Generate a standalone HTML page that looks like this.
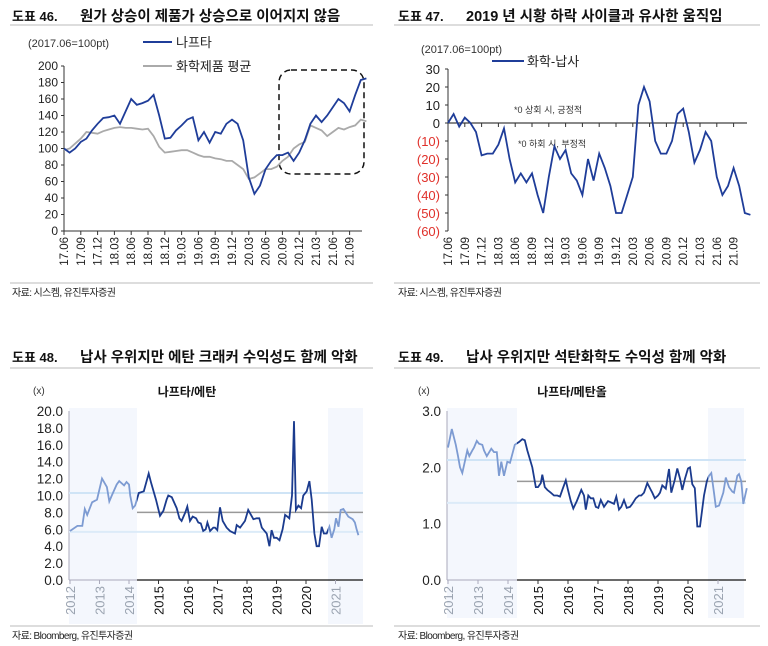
<!DOCTYPE html>
<html><head><meta charset="utf-8">
<style>
body{margin:0;background:#fff;}
svg{display:block;font-family:"Liberation Sans","Noto Sans CJK KR",sans-serif;}
.tt{font-weight:bold;font-size:14.5px;fill:#111}
.tn{font-weight:bold;font-size:13px;fill:#111}
.src{font-size:10px;fill:#222;letter-spacing:-0.6px}
</style></head><body>
<svg id="s" width="768" height="646" viewBox="0 0 768 646">
<g>
<text x="12" y="21" class="tn">도표 46.</text>
<text x="80" y="21" class="tt">원가 상승이 제품가 상승으로 이어지지 않음</text>
<line x1="10" y1="25" x2="373" y2="25" stroke="#bbb"/>
</g>
<g>
<text x="398" y="21" class="tn">도표 47.</text>
<text x="466" y="21" class="tt">2019 년 시황 하락 사이클과 유사한 움직임</text>
<line x1="394" y1="25" x2="760" y2="25" stroke="#bbb"/>
</g>
<g>
<text x="12" y="362" class="tn">도표 48.</text>
<text x="80" y="362" class="tt">납사 우위지만 에탄 크래커 수익성도 함께 악화</text>
<line x1="10" y1="368" x2="373" y2="368" stroke="#bbb"/>
</g>
<g>
<text x="398" y="362" class="tn">도표 49.</text>
<text x="466" y="362" class="tt">납사 우위지만 석탄화학도 수익성 함께 악화</text>
<line x1="394" y1="368" x2="760" y2="368" stroke="#bbb"/>
</g>
<line x1="10" y1="283" x2="373" y2="283" stroke="#bbb"/>
<text x="12" y="296" class="src">자료: 시스켐, 유진투자증권</text>
<line x1="394" y1="283" x2="760" y2="283" stroke="#bbb"/>
<text x="398" y="296" class="src">자료: 시스켐, 유진투자증권</text>
<line x1="10" y1="626" x2="373" y2="626" stroke="#bbb"/>
<text x="12" y="639" class="src">자료: Bloomberg, 유진투자증권</text>
<line x1="394" y1="626" x2="760" y2="626" stroke="#bbb"/>
<text x="398" y="639" class="src">자료: Bloomberg, 유진투자증권</text>

<text x="28" y="47" font-size="11" fill="#333">(2017.06=100pt)</text>
<line x1="143" y1="42" x2="172" y2="42" stroke="#1f3d99" stroke-width="2"/>
<text x="176" y="47" font-size="13" fill="#222">나프타</text>
<line x1="143" y1="66" x2="172" y2="66" stroke="#aaa" stroke-width="2"/>
<text x="176" y="71" font-size="13" fill="#222">화학제품 평균</text>
<rect x="279" y="70" width="85" height="104" rx="12" fill="none" stroke="#111" stroke-width="1.5" stroke-dasharray="6,4"/>

<text x="421" y="53" font-size="11" fill="#333">(2017.06=100pt)</text>
<line x1="492" y1="61" x2="524" y2="61" stroke="#1f3d99" stroke-width="2"/>
<text x="527" y="66" font-size="13" fill="#222">화학-납사</text>
<text x="514" y="113" font-size="9" fill="#333">*0 상회 시, 긍정적</text>
<text x="518" y="147" font-size="9" fill="#333">*0 하회 시, 부정적</text>

<rect x="69" y="408" width="68" height="216" fill="#f4f7fd"/>
<rect x="328" y="408" width="35" height="216" fill="#f4f7fd"/>
<text x="33" y="394" font-size="10" fill="#333">(x)</text>
<text x="187" y="396" font-size="12" font-weight="bold" fill="#111" text-anchor="middle">나프타/에탄</text>

<rect x="447" y="408" width="70" height="210" fill="#f4f7fd"/>
<rect x="708" y="408" width="36" height="210" fill="#f4f7fd"/>
<text x="418" y="394" font-size="10" fill="#333">(x)</text>
<text x="572" y="396" font-size="12" font-weight="bold" fill="#111" text-anchor="middle">나프타/메탄올</text>
<g id="dyn"></g>
</svg>
<script>
var p1Ticks=["17.06","17.09","17.12","18.03","18.06","18.09","18.12","19.03","19.06","19.09","19.12","20.03","20.06","20.09","20.12","21.03","21.06","21.09"];
var p1YTicks=[0,20,40,60,80,100,120,140,160,180,200];
var naphtha=[100,95,100,108,112,122,130,137,138,140,130,145,160,153,155,158,165,140,112,113,122,128,135,138,110,120,107,120,118,130,135,130,110,65,45,55,75,85,92,92,95,85,95,110,130,140,132,140,150,160,155,145,165,183,185];
var chemAvg=[98,100,106,112,120,119,118,121,123,125,126,125,125,124,123,124,115,102,95,96,97,98,98,95,92,90,90,88,87,85,85,80,75,63,65,70,75,75,78,85,90,100,105,108,128,125,122,115,120,125,123,126,128,135,133];
var spread=[0,5,-2,3,0,-5,-18,-17,-17,-12,-3,-20,-33,-28,-33,-28,-40,-50,-30,-13,-20,-15,-28,-32,-40,-20,-32,-17,-25,-35,-50,-50,-40,-30,10,20,12,-10,-17,-17,-10,5,8,-5,-22,-15,-5,-10,-30,-40,-35,-25,-35,-50,-51];
var p2YTicks=[30,20,10,0,-10,-20,-30,-40,-50,-60];
var p2YLabels=["30","20","10","0","(10)","(20)","(30)","(40)","(50)","(60)"];
var years=["2012","2013","2014","2015","2016","2017","2018","2019","2020","2021"];
var p3YTicks=[0,2,4,6,8,10,12,14,16,18,20];
var p3Months=[0,3,5,6,7,9,11,13,15,16,17,19,20,22,23,24,24.5,25.5,26.5,28,30,32,33,35,36.6,38,39.3,40,41.4,43.4,44.5,45.4,46.9,47.7,48.8,49.9,51.3,52.2,53.2,54.2,55.2,55.9,57,58.3,59,59.9,61,62.1,63.7,65.1,67.1,67.8,69.2,71.2,72.5,74.6,75.9,77,78,78.6,80,81.1,82,83,84.1,85.2,86.5,87.5,88.4,89.2,90.3,91.1,91.9,92.9,94,94.9,96.3,97.4,98.3,99.4,100.3,101.3,102.4,103.3,104.4,105.5,106.4,107.5,108.2,109.2,110.1,111.2,113.2,115,115.9,116.6,117.3];
var p3Vals=[5.8,6.4,6.4,8.4,7.7,9.2,9.5,12.0,11.0,9.3,10.0,11.3,11.7,11.2,11.6,11.3,10.0,8.5,8.8,10.3,10.5,12.6,11.5,9.5,7.6,8.2,9.5,10.0,9.8,8.5,7.3,7.0,8.0,8.7,7.0,7.5,7.3,6.8,6.7,5.8,6.0,6.8,5.8,6.2,6.2,5.9,8.6,7.0,6.2,5.8,5.5,6.5,6.2,7.0,8.3,7.2,7.3,7.3,6.2,6.0,5.5,4.0,5.9,5.0,5.0,4.7,6.0,7.7,7.5,7.3,10.0,18.8,8.3,8.8,8.5,10.0,10.5,11.7,9.5,5.5,4.0,4.0,6.3,5.5,5.5,6.3,5.0,6.0,7.3,6.3,8.3,8.4,7.5,7.2,6.8,6.0,5.3,5.8];
var p3Ref=[10.3,8.0,5.7];
var p4YTicks=[0,1,2,3];
var p4Months=[0,1.5,3.1,4,4.8,5.7,6.7,7.7,8.5,9.7,10.4,11.5,12.4,13.7,14.4,15.5,17.3,18.4,19.5,20.4,21.3,22.4,23.7,24.8,26.7,28.4,29.7,30.7,31.7,33.7,35.1,36,37.1,37.7,38.7,39.7,41.1,42.4,43.7,44.8,45.7,47.1,48,49.1,50.1,51.5,53.3,54.4,55.1,56.1,57.1,58.1,59.1,60.1,61.1,62.4,64,65.1,66.4,67.3,68.4,69.3,70.4,71.5,72.8,73.7,75.1,76.4,77.3,78.4,79.7,81.1,81.7,82.7,84,84.8,85.7,87.1,88.4,89.3,90.7,91.7,92.8,93.7,94.8,96,96.8,97.7,98.7,99.7,100.8,102.4,103.5,104.4,105.3,106.4,107.1,108.4,110.1,111.1,112.4,113.7,114.4,115.7,116.4,117.3,118.1,119.5];
var p4Vals=[2.35,2.68,2.4,2.2,2.0,1.9,2.1,2.3,2.2,2.3,2.35,2.47,2.42,2.4,2.3,2.2,2.33,2.27,2.27,1.85,2.1,1.85,2.1,2.08,2.4,2.45,2.5,2.48,2.3,2.0,1.65,1.65,1.72,1.87,1.65,1.6,1.55,1.5,1.5,1.48,1.6,1.77,1.6,1.4,1.27,1.4,1.6,1.5,1.25,1.5,1.45,1.45,1.3,1.28,1.42,1.3,1.4,1.38,1.35,1.48,1.25,1.3,1.42,1.28,1.3,1.35,1.45,1.5,1.5,1.55,1.72,1.6,1.55,1.45,1.5,1.55,1.68,1.62,1.97,1.55,1.78,1.98,1.8,1.6,1.8,1.98,2.0,1.7,1.63,0.95,0.95,1.5,1.75,1.85,1.9,1.55,1.3,1.32,1.55,1.82,1.65,1.57,1.55,1.85,1.88,1.75,1.35,1.63];
var p4Ref=[2.13,1.75,1.37];

var NS="http://www.w3.org/2000/svg";
var G=document.getElementById('dyn');
function mk(tag,at,parent){var e=document.createElementNS(NS,tag);for(var k in at)e.setAttribute(k,at[k]);(parent||G).appendChild(e);return e;}
function pathD(xs,ys){var d="";for(var i=0;i<xs.length;i++)d+=(i?"L":"M")+xs[i].toFixed(1)+","+ys[i].toFixed(1);return d;}

(function(){
  var x=function(m){return 64+m*5.6;}, y=function(v){return 231-v*0.825;};
  var ax=mk('line',{x1:64,y1:y(200),x2:64,y2:231,stroke:'#333'});
  
  var bx=mk('line',{x1:64,y1:231,x2:362,y2:231,stroke:'#333'});
  
  p1YTicks.forEach(function(v){
    var t=mk('text',{x:58,y:y(v)+4,'font-size':12,fill:'#222','text-anchor':'end'});t.textContent=v;
    
    var l=mk('line',{x1:61,y1:y(v),x2:64,y2:y(v),stroke:'#333'});
    
  });
  p1Ticks.forEach(function(s,i){
    var xx=x(i*3);
    var l=mk('line',{x1:xx,y1:231,x2:xx,y2:235,stroke:'#333'});
    
    var t=mk('text',{x:0,y:0,'font-size':11.5,fill:'#222','text-anchor':'end',transform:'translate('+(xx+4)+',237) rotate(-90)'});t.textContent=s;
    
  });
  var g=mk('path',{d:pathD(chemAvg.map(function(v,i){return x(i);}),chemAvg.map(y)),fill:'none',stroke:'#aaa','stroke-width':1.8});
  
  var b=mk('path',{d:pathD(naphtha.map(function(v,i){return x(i);}),naphtha.map(y)),fill:'none',stroke:'#1f3d99','stroke-width':1.8});
  
})();

(function(){
  var x=function(m){return 448+m*5.6;}, y=function(v){return 123-v*1.8;};
  var ax=mk('line',{x1:448,y1:y(30),x2:448,y2:y(-60),stroke:'#333'});
  
  var z=mk('line',{x1:448,y1:y(0),x2:747,y2:y(0),stroke:'#111'});
  
  p2YTicks.forEach(function(v,i){
    var t=mk('text',{x:440,y:y(v)+5,'font-size':13,fill:v<0?'#e0302a':'#222','text-anchor':'end'});t.textContent=p2YLabels[i];
    
    var l=mk('line',{x1:445,y1:y(v),x2:448,y2:y(v),stroke:'#333'});
    
  });
  p1Ticks.forEach(function(s,i){
    var xx=x(i*3);
    var l=mk('line',{x1:xx,y1:y(0),x2:xx,y2:y(0)+4,stroke:'#333'});
    
    var t=mk('text',{x:0,y:0,'font-size':11.5,fill:'#222','text-anchor':'end',transform:'translate('+(xx+4)+',237) rotate(-90)'});t.textContent=s;
    
  });
  var b=mk('path',{d:pathD(spread.map(function(v,i){return x(i);}),spread.map(y)),fill:'none',stroke:'#1f3d99','stroke-width':1.8});
  
})();

function ratioPanel(o){
  var x=function(m){return o.x0+m*o.px;}, y=function(v){return 580-v*o.py;};
  var ax=mk('line',{x1:o.ax,y1:411,x2:o.ax,y2:580,stroke:'#aab'});
  
  o.yt.forEach(function(v){
    var t=mk('text',{x:o.ax-6,y:y(v)+5,'font-size':13.5,fill:'#222','text-anchor':'end'});t.textContent=v.toFixed(1);
    
  });
  var cols=['#cfe4f6','#999','#dcebf8'];
  o.ref.forEach(function(v,i){
    var l=mk('line',{x1:i==1?o.s1:o.ax,y1:y(v),x2:o.right,y2:y(v),stroke:cols[i],'stroke-width':i==1?1.5:2});
    
  });
  var bx=mk('line',{x1:o.s1,y1:580,x2:o.right,y2:580,stroke:'#111','stroke-width':1.2});
  
  var bx2=mk('line',{x1:o.ax,y1:580,x2:o.s1,y2:580,stroke:'#aab'});
  
  years.forEach(function(s,i){
    var xx=x(i*12);
    var faded=(i<3||i>8);
    var l=mk('line',{x1:xx,y1:580,x2:xx,y2:584,stroke:faded?'#aab':'#333'});
    
    var t=mk('text',{x:0,y:0,'font-size':13,fill:faded?'#9aa3b0':'#111','text-anchor':'end',transform:'translate('+(xx+5)+',586) rotate(-90)'});t.textContent=s;
    
  });
  var d=pathD(o.m.map(x),o.v.map(y));
  var defs=mk('defs',{});
  var c1=mk('clipPath',{id:'mid'+o.id},defs);mk('rect',{x:o.s1,y:380,width:o.s2-o.s1,height:260},c1);
  var c2=mk('clipPath',{id:'out'+o.id},defs);mk('rect',{x:0,y:380,width:o.s1,height:260},c2);mk('rect',{x:o.s2,y:380,width:400,height:260},c2);
  var lp=mk('path',{d:d,fill:'none',stroke:'#7d9bd2','stroke-width':1.8,'clip-path':'url(#out'+o.id+')'});
  
  var dp=mk('path',{d:d,fill:'none',stroke:'#1b3b8e','stroke-width':1.8,'clip-path':'url(#mid'+o.id+')'});
  
}
ratioPanel({id:'48',x0:70,px:29.5/12,py:169/20,ax:69,s1:137,s2:328,right:363,yt:p3YTicks,ref:p3Ref,m:p3Months,v:p3Vals});
ratioPanel({id:'49',x0:448,px:30/12,py:169/3,ax:447,s1:517,s2:708,right:746,yt:p4YTicks,ref:p4Ref,m:p4Months,v:p4Vals});
</script>
</body></html>
